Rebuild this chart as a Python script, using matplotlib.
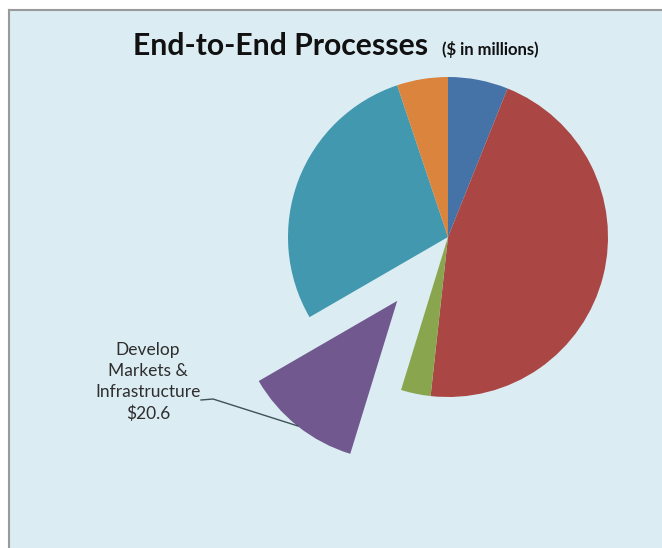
import matplotlib.pyplot as plt
from matplotlib.patches import Rectangle
from matplotlib.lines import Line2D

# Slices, clockwise from 12 o'clock ($ in millions)
segments = ["Process A", "Process B", "Process C",
            "Develop Markets & Infrastructure", "Process E", "Process F"]
values = [10.5, 79.0, 5.2, 20.6, 48.8, 8.9]
colors = ["#4572a7", "#aa4643", "#89a54e", "#71588f", "#4198af", "#db843d"]
explode = [0, 0, 0, 0.51, 0, 0]

label_text = "Develop\nMarkets &\nInfrastructure\n\\$20.6"
title = "End-to-End Processes"
subtitle = "(\\$ in millions)"

# Canvas geometry in pixels
W, H = 662, 548
CX, CY, R = 448, 237, 160  # pie centre (from top) and radius

plt.rcParams["font.family"] = ["Lato", "DejaVu Sans"]
fig = plt.figure(figsize=(W / 100, H / 100), dpi=100, facecolor="white")

# Chart area background with grey frame on left/top
bg = Rectangle((9 / W, 0), 1 - 9 / W, 1 - 10 / H, transform=fig.transFigure,
               facecolor="#dbecf3", edgecolor="none", zorder=-2)
fig.patches.append(bg)
fig.lines.append(Line2D([9 / W, 9 / W], [0, 1 - 10 / H], transform=fig.transFigure,
                        color="#9a9a9a", lw=1.5, zorder=-1))
fig.lines.append(Line2D([9 / W, 1], [1 - 10 / H, 1 - 10 / H], transform=fig.transFigure,
                        color="#9a9a9a", lw=1.5, zorder=-1))

ax = fig.add_axes([0, 0, 1, 1])
ax.pie(values, colors=colors, explode=explode, startangle=90, counterclock=False,
       radius=1, wedgeprops=dict(linewidth=0))
ax.set_xlim(-CX / R, (W - CX) / R)
ax.set_ylim(-(H - CY) / R, CY / R)
ax.set_aspect("equal")
ax.axis("off")

# Titles
fig.text(133 / W, 1 - 55 / H, title, fontsize=21.7, fontweight="bold",
         va="baseline", ha="left", color="#111111")
fig.text(442 / W, 1 - 55 / H, subtitle, fontsize=12, fontweight="bold",
         va="baseline", ha="left", color="#111111")

# Data label with leader line
fig.text(148 / W, 1 - 382 / H, label_text, fontsize=12.5, ha="center", va="center",
         linespacing=1.4, color="#2e2e2e")
lx = [201, 213, 298]
ly = [400, 399, 426]
fig.lines.append(Line2D([x / W for x in lx], [1 - y / H for y in ly],
                        transform=fig.transFigure, color="#3f5258", lw=1))

fig.savefig("out.png", dpi=100, facecolor=fig.get_facecolor())
